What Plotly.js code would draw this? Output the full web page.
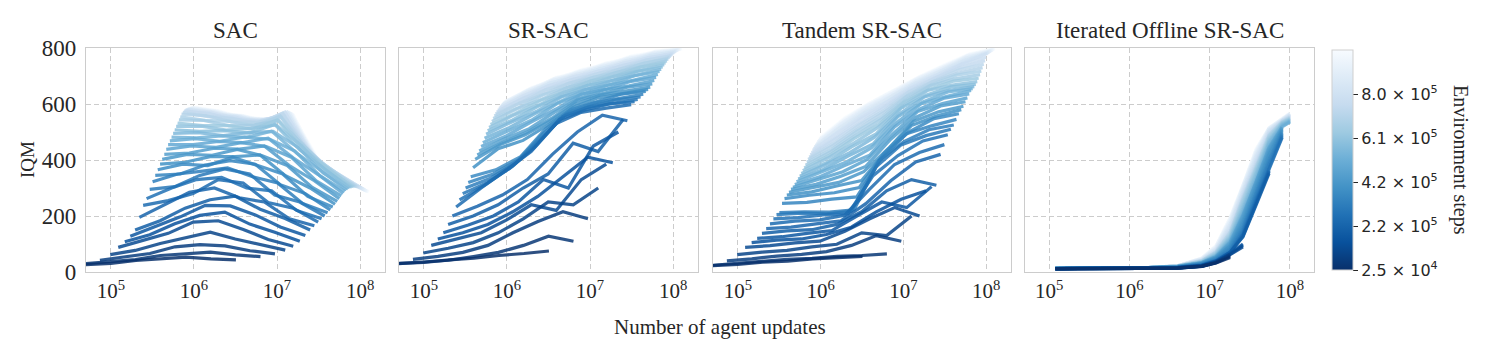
<!DOCTYPE html>
<html><head><meta charset="utf-8">
<script src="https://cdn.plot.ly/plotly-3.0.1.min.js"></script>
<style>html,body{margin:0;padding:0;background:#fff}#chart{width:1498px;height:351px}</style>
</head><body><div id="chart"></div>
<script>
// ---------------- data ----------------
const envSteps = [25000, 49375, 73750, 98125, 122500, 146875, 171250, 195625, 220000, 244375,
  268750, 293125, 317500, 341875, 366250, 390625, 415000, 439375, 463750, 488125,
  512500, 536875, 561250, 585625, 610000, 634375, 658750, 683125, 707500, 731875,
  756250, 780625, 805000, 829375, 853750, 878125, 902500, 926875, 951250, 975625, 1000000];
const replayRatios = [1, 2, 4, 8, 16, 32, 64, 128];
const panelTitles = ["SAC", "SR-SAC", "Tandem SR-SAC", "Iterated Offline SR-SAC"];

// IQM per environment-step checkpoint (rows) and replay ratio (columns)
const iqmSAC = [
 [22,27,31,41,46,53,47,43],[30,37,44,59,66,71,61,55],[42,53,66,90,98,93,76,65],[62,77,102,122,142,118,99,78],
 [88,112,138,178,183,152,116,92],[108,133,172,202,214,171,142,110],[128,162,197,238,236,204,161,130],
 [150,183,228,258,271,224,191,150],[195,240,285,300,265,250,190,165],[238,255,280,330,318,248,228,178],
 [262,300,330,338,300,290,220,190],[295,305,345,368,350,275,250,200],[322,350,360,372,340,318,245,212],
 [345,350,382,398,385,312,280,222],[365,385,380,410,380,350,270,232],[385,392,412,412,418,345,300,242],
 [402,420,417,438,415,380,302,252],[420,425,442,439,450,380,326,262],[438,450,445,462,448,410,325,272],
 [455,455,466,462,478,408,348,280],[468,476,467,482,474,432,344,288],[482,479,486,481,503,425,361,293],
 [495,498,487,498,502,445,354,297],[508,502,505,496,527,436,368,300],[520,521,507,513,525,452,360,302],
 [532,523,523,510,543,439,371,303],[543,541,523,525,540,449,361,304],[554,542,538,521,557,434,369,305],
 [564,558,536,535,553,442,355,305],[570,555,549,529,567,426,362,304],[575,567,543,540,560,434,349,303],
 [578,560,553,532,571,418,357,302],[580,570,546,542,562,426,345,300],[582,562,556,534,571,410,352,298],
 [583,572,548,544,560,418,339,296],[584,564,557,535,569,402,346,294],[585,574,549,545,557,410,333,292],
 [586,566,558,536,565,394,340,290],[587,575,550,546,553,403,328,288],[588,567,559,537,561,388,336,287],
 [588,576,551,547,550,397,325,286]];

const iqmSRSAC = [
 [25,31,34,43,49,59,66,75],[30,36,42,55,70,95,128,110],[45,56,70,95,140,180,215,190],[68,85,105,140,190,250,240,300],
 [95,118,140,185,240,220,330,385],[118,140,170,215,270,340,410,390],[140,168,200,250,330,300,450,500],
 [170,200,240,300,350,460,430,545],[200,235,275,330,420,500,560,540],[232,300,364,430,530,570,585,598],
 [258,310,370,445,545,578,601,608],[280,320,378,460,555,588,602,616],[300,335,390,478,562,592,615,625],
 [320,350,400,495,570,603,619,635],[340,365,412,512,580,608,635,645],[372,440,470,525,588,622,637,652],
 [402,455,490,540,600,632,646,660],[418,462,500,550,614,636,660,672],[432,475,512,570,620,651,665,684],
 [448,486,535,582,635,653,681,695],[462,505,545,603,637,667,685,706],[478,516,565,609,651,669,701,716],
 [492,535,573,625,653,683,703,724],[505,543,591,629,667,685,717,732],[516,561,597,643,669,699,719,740],
 [527,566,613,645,682,700,732,747],[538,583,617,659,683,713,733,754],[548,587,633,661,695,713,745,760],
 [557,603,637,675,695,725,745,766],[565,605,651,675,707,725,757,771],[572,619,653,687,707,737,756,775],
 [578,619,665,687,718,736,766,779],[584,631,665,698,717,747,764,783],[589,630,676,696,727,745,774,786],
 [594,641,674,706,725,755,771,789],[598,639,684,704,735,753,780,791],[602,649,681,713,732,762,777,793],
 [605,646,690,710,741,759,785,795],[608,655,687,719,738,768,781,796],[610,651,695,715,746,764,789,797],
 [612,659,691,723,742,772,785,798]];

const iqmTandem = [
 [18,23,27,35,39,47,51,56],[24,31,36,45,49,56,59,65],[40,47,57,63,73,95,130,110],[62,71,77,90,99,140,130,200],
 [88,94,104,110,145,190,230,200],[105,114,118,134,160,215,260,290],[120,126,138,148,200,250,230,305],
 [138,147,151,170,215,290,330,310],[155,160,172,183,244,326,393,420],[172,182,186,203,296,384,427,455],
 [190,194,204,208,344,416,468,490],[205,210,208,217,376,454,487,510],[212,215,214,222,398,466,508,525],
 [245,249,260,268,407,494,522,545],[262,274,283,302,424,501,548,565],[275,286,307,327,433,523,557,580],
 [285,302,320,358,442,538,572,592],[295,313,342,377,474,552,593,608],[303,332,358,403,492,573,602,622],
 [312,340,380,417,518,582,621,636],[322,358,393,443,532,601,627,648],[332,366,414,457,555,607,643,655],
 [342,382,426,481,565,625,649,662],[352,390,446,493,585,631,661,670],[362,407,458,515,592,648,668,680],
 [372,416,476,527,606,652,682,692],[382,429,487,543,613,665,690,705],[392,438,502,553,626,669,703,717],
 [402,452,511,568,632,680,710,730],[410,461,526,577,643,684,722,742],[418,475,534,590,648,693,730,755],
 [426,483,548,597,657,696,741,767],[435,497,555,608,662,705,745,780],[441,504,566,613,670,708,753,783],
 [447,515,572,622,674,716,757,786],[453,521,581,627,681,719,763,788],[459,530,586,635,684,726,766,790],
 [465,535,593,639,690,728,771,792],[470,542,597,645,692,734,773,794],[475,546,602,648,697,736,777,796],
 [480,552,605,653,699,741,779,798]];

// Iterated offline: agent-update checkpoints shared by all runs, each run stops at its own length
const offlineUpdates = [1.2e5, 4e5, 1.5e6, 4e6, 8e6, 1.2e7, 1.8e7, 2.6e7, 3.8e7, 5.5e7, 8e7, 1e8];
const iqmOffline = [
 [11,12,12,14,20,32,52],[11,12,12,14,20,33,56],[12,12,13,14,21,34,60],[12,12,13,15,21,35,64],
 [12,12,13,15,22,36,62,90],[12,12,13,15,22,37,64,95],[12,12,13,16,23,38,66,100],
 [12,13,13,16,23,38,70,125,240,352],[12,13,13,16,24,39,70,128,245,358],[12,13,14,16,24,40,70,132,250,362],
 [12,13,14,17,25,40,70,135,255,368,480],[12,13,14,17,26,41,72,140,262,375,485],[12,13,14,17,27,43,76,148,270,385,490],
 [12,13,14,17,28,45,80,156,280,395,495],[13,13,14,18,29,47,86,165,290,405,500],[13,13,14,18,30,49,92,175,300,418,506],
 [13,13,14,18,31,51,96,185,310,428,510],[13,13,14,19,32,53,100,195,318,437,514],[13,13,15,19,33,54,104,200,320,442,516],
 [13,13,15,19,33,55,106,203,321,445,517],[13,13,15,20,33,55,108,205,322,447,518,535],[13,13,15,20,34,57,112,212,330,455,522,538],
 [13,13,15,20,34,59,116,220,338,462,525,540],[13,13,15,20,35,61,120,228,346,468,528,542],[13,13,15,20,36,63,124,236,354,472,530,544],
 [13,13,15,20,37,65,128,244,362,477,532,546],[13,14,15,21,38,67,132,252,370,482,534,548],[13,14,15,21,39,69,136,258,376,486,535,550],
 [13,14,15,21,40,71,140,262,380,488,536,551],[13,14,15,21,40,72,142,265,383,490,537,553],[13,14,15,21,41,73,146,270,390,494,539,555],
 [13,14,15,21,42,75,152,276,396,498,540,557],[13,14,15,21,43,77,158,282,403,502,541,559],[13,14,15,22,44,79,164,288,410,505,542,560],
 [13,14,15,22,45,82,170,294,416,508,543,562],[13,14,15,22,46,85,176,299,422,510,544,563],[13,14,15,22,47,87,181,303,427,512,545,564],
 [13,14,15,22,48,89,186,306,431,513,546,565],[13,14,15,22,49,91,190,308,435,514,547,566],[13,14,15,22,50,93,193,309,438,515,547,567],
 [13,14,15,22,50,95,195,310,440,515,548,568]];

const xTickVals = [1e5, 1e6, 1e7, 1e8];
const xTickText = ["10<sup>5</sup>", "10<sup>6</sup>", "10<sup>7</sup>", "10<sup>8</sup>"];
const yTickVals = [0, 200, 400, 600, 800];
const cbTickVals = [25000, 220000, 415000, 610000, 805000];
const cbTickText = ["2.5 \u00d7 10<sup>4</sup>", "2.2 \u00d7 10<sup>5</sup>", "4.2 \u00d7 10<sup>5</sup>", "6.1 \u00d7 10<sup>5</sup>", "8.0 \u00d7 10<sup>5</sup>"];

// ---------------- style ----------------
const BLUES = [[0,[247,251,255]],[0.125,[222,235,247]],[0.25,[198,219,239]],[0.375,[158,202,225]],
  [0.5,[107,174,214]],[0.625,[66,146,198]],[0.75,[33,113,181]],[0.875,[8,81,156]],[1,[8,48,107]]];
function bluesAt(t) {
  t = Math.max(0, Math.min(1, t));
  for (let k = 1; k < BLUES.length; k++) {
    if (t <= BLUES[k][0]) {
      const t0 = BLUES[k-1][0], c0 = BLUES[k-1][1], t1 = BLUES[k][0], c1 = BLUES[k][1];
      const f = (t - t0) / (t1 - t0);
      return 'rgb(' + c0.map((v, m) => Math.round(v + (c1[m] - v) * f)).join(',') + ')';
    }
  }
  return 'rgb(8,48,107)';
}
const cmin = envSteps[0], cmax = envSteps[envSteps.length - 1];
const colorFor = E => bluesAt(1 - (E - cmin) / (cmax - cmin));
const cscale = BLUES.map(s => [1 - s[0], 'rgb(' + s[1].join(',') + ')']).reverse();

const W = 1498, H = 351;
const panelsPx = [[86, 385], [399, 698], [713, 1011], [1025, 1314]];
const plotTop = 48, plotBottom = 272;
const serif = "Liberation Serif, Times New Roman, serif";
const textColor = "#262626";
const LW = 3.2, OP = 0.85;

const traces = [];
const tables = [iqmSAC, iqmSRSAC, iqmTandem];
tables.forEach((tab, p) => {
  for (let i = envSteps.length - 1; i >= 0; i--) {
    traces.push({
      type: 'scatter', mode: 'lines',
      x: replayRatios.map(r => envSteps[i] * r), y: tab[i],
      xaxis: 'x' + (p + 1), yaxis: 'y' + (p + 1),
      line: {color: colorFor(envSteps[i]), width: LW},
      opacity: OP, hoverinfo: 'skip', showlegend: false
    });
  }
});
for (let i = envSteps.length - 1; i >= 0; i--) {
  const row = iqmOffline[i];
  traces.push({
    type: 'scatter', mode: 'lines',
    x: offlineUpdates.slice(0, row.length), y: row,
    xaxis: 'x4', yaxis: 'y4',
    line: {color: colorFor(envSteps[i]), width: LW},
    opacity: OP, hoverinfo: 'skip', showlegend: false
  });
}
// colour bar carrier
traces.push({
  type: 'scatter', mode: 'markers', x: envSteps, y: envSteps.map(() => null),
  xaxis: 'x4', yaxis: 'y4', hoverinfo: 'skip', showlegend: false,
  marker: {color: envSteps, colorscale: cscale, cmin: cmin, cmax: cmax, showscale: true,
    colorbar: {
      x: 1332 / W, xanchor: 'left', xref: 'paper', xpad: 0, ypad: 0,
      y: 1 - 160 / H, yanchor: 'middle', len: 220 / H, lenmode: 'fraction',
      thickness: 21, thicknessmode: 'pixels',
      outlinewidth: 1, outlinecolor: '#cfcfcf',
      tickmode: 'array', tickvals: cbTickVals, ticktext: cbTickText,
      ticks: 'outside', ticklen: 5, tickwidth: 1, tickcolor: textColor,
      tickfont: {family: 'DejaVu Sans', size: 16, color: textColor},
      title: {text: ''}
    }}
});

const layout = {
  width: W, height: H, margin: {l: 0, r: 0, t: 0, b: 0},
  paper_bgcolor: '#fff', plot_bgcolor: '#fff', showlegend: false,
  annotations: []
};
panelsPx.forEach((px, p) => {
  const ax = {
    type: 'log', range: [4.7, 8.3], domain: [px[0] / W, px[1] / W],
    anchor: 'y' + (p + 1),
    tickmode: 'array', tickvals: xTickVals, ticktext: xTickText,
    tickfont: {family: serif, size: 21, color: textColor},
    showline: true, mirror: true, linecolor: '#cccccc', linewidth: 1.25,
    showgrid: true, gridcolor: '#cccccc', gridwidth: 1, griddash: '5px,3px',
    zeroline: false, ticks: ''
  };
  const ay = {
    range: [0, 800], domain: [1 - plotBottom / H, 1 - plotTop / H],
    anchor: 'x' + (p + 1),
    tickmode: 'array', tickvals: yTickVals,
    showticklabels: p === 0, ticklabelstandoff: 4,
    tickfont: {family: serif, size: 23, color: textColor},
    showline: true, mirror: true, linecolor: '#cccccc', linewidth: 1.25,
    showgrid: true, gridcolor: '#cccccc', gridwidth: 1, griddash: '5px,3px',
    zeroline: false, ticks: ''
  };
  layout['xaxis' + (p + 1)] = ax;
  layout['yaxis' + (p + 1)] = ay;
  layout.annotations.push({
    text: panelTitles[p], xref: 'paper', yref: 'paper',
    x: (px[0] + px[1]) / 2 / W, y: 1 - 31 / H, xanchor: 'center', yanchor: 'middle',
    showarrow: false, font: {family: serif, size: 23, color: textColor}
  });
});
layout.annotations.push({
  text: 'IQM', xref: 'paper', yref: 'paper', x: 27 / W, y: 1 - 160 / H,
  xanchor: 'center', yanchor: 'middle', textangle: -90, showarrow: false,
  font: {family: serif, size: 19, color: textColor}
});
layout.annotations.push({
  text: 'Number of agent updates', xref: 'paper', yref: 'paper', x: 720 / W, y: 1 - 327 / H,
  xanchor: 'center', yanchor: 'middle', showarrow: false,
  font: {family: serif, size: 21, color: textColor}
});
layout.annotations.push({
  text: 'Environment steps', xref: 'paper', yref: 'paper', x: 1461 / W, y: 1 - 160 / H,
  xanchor: 'center', yanchor: 'middle', textangle: 90, showarrow: false,
  font: {family: serif, size: 20, color: textColor}
});

Plotly.newPlot('chart', traces, layout, {displayModeBar: false, staticPlot: true});
</script>
</body></html>
